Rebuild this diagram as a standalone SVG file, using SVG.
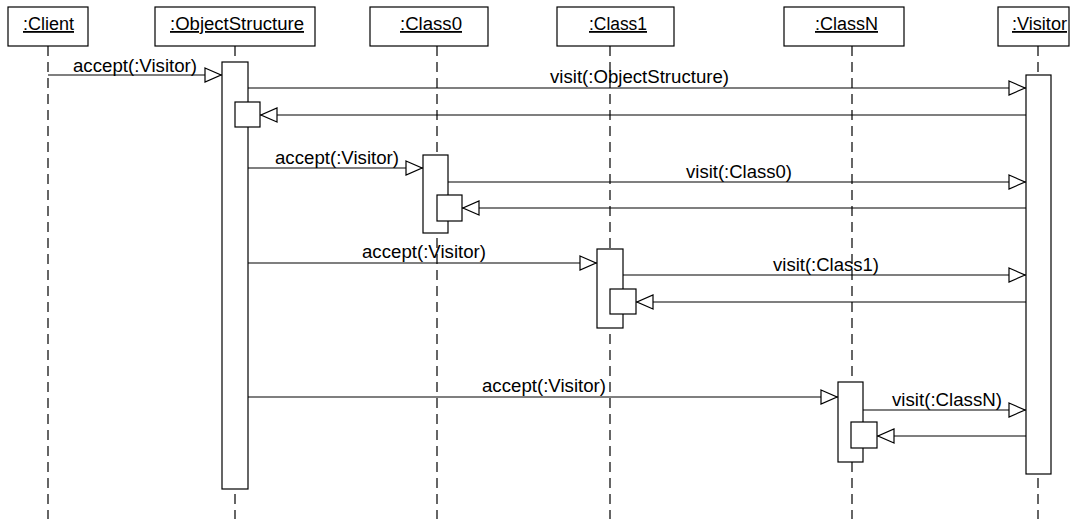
<svg xmlns="http://www.w3.org/2000/svg" width="1071" height="519" viewBox="0 0 1071 519">
<defs>
<style>
.box{fill:#fff;stroke:#000;stroke-width:1.2}
.life{stroke:#000;stroke-width:1.2;stroke-dasharray:10,6;fill:none}
.msg{stroke:#000;stroke-width:1.2;fill:none}
.lbl{font-family:"Liberation Sans",Arial,sans-serif;font-size:17.5px;fill:#000}
.name{font-family:"Liberation Sans",Arial,sans-serif;font-size:18px;fill:#000;text-decoration:underline}
</style>
<marker id="tri" viewBox="0 0 18 16" refX="18" refY="8" markerWidth="18" markerHeight="16" markerUnits="userSpaceOnUse" orient="auto">
<path d="M1,1 L17,8 L1,15 Z" fill="#fff" stroke="#000" stroke-width="1.2"/>
</marker>
</defs>
<rect width="1071" height="519" fill="#fff"/>
<g id="lifelines">
<line class="life" x1="48" y1="46" x2="48" y2="519"/>
<line class="life" x1="235" y1="46" x2="235" y2="519"/>
<line class="life" x1="437" y1="46" x2="437" y2="519"/>
<line class="life" x1="610" y1="46" x2="610" y2="519"/>
<line class="life" x1="852" y1="46" x2="852" y2="519"/>
<line class="life" x1="1038" y1="46" x2="1038" y2="519"/>
</g>
<g id="client"><rect class="box" x="8" y="7" width="80" height="39"/><text class="name" x="23" y="30" textLength="51" lengthAdjust="spacingAndGlyphs">:Client</text></g>
<g id="objectstructure"><rect class="box" x="155" y="7" width="160" height="39"/><text class="name" x="170" y="30" textLength="134" lengthAdjust="spacingAndGlyphs">:ObjectStructure</text>
<rect class="box" x="222" y="62" width="26" height="427"/><rect class="box" x="235" y="102" width="25" height="25"/></g>
<g id="class0"><rect class="box" x="370" y="7" width="118" height="39"/><text class="name" x="400" y="30" textLength="62" lengthAdjust="spacingAndGlyphs">:Class0</text>
<rect class="box" x="423" y="155" width="25" height="78"/><rect class="box" x="437" y="195" width="25" height="26"/></g>
<g id="class1"><rect class="box" x="557" y="7" width="117" height="39"/><text class="name" x="589" y="30" textLength="58" lengthAdjust="spacingAndGlyphs">:Class1</text>
<rect class="box" x="597" y="249" width="26" height="79"/><rect class="box" x="610" y="289" width="26" height="25"/></g>
<g id="classn"><rect class="box" x="784" y="7" width="120" height="39"/><text class="name" x="815" y="30" textLength="63" lengthAdjust="spacingAndGlyphs">:ClassN</text>
<rect class="box" x="838" y="382" width="25" height="80"/><rect class="box" x="851" y="422" width="26" height="26"/></g>
<g id="visitor"><rect class="box" x="998" y="7" width="71" height="39"/><text class="name" x="1012" y="30" textLength="55" lengthAdjust="spacingAndGlyphs">:Visitor</text>
<rect class="box" x="1026" y="75" width="25" height="399"/></g>
<g id="connectors">
<line class="msg" x1="48" y1="75" x2="222" y2="75" marker-end="url(#tri)"/>
<line class="msg" x1="248" y1="88" x2="1026" y2="88" marker-end="url(#tri)"/>
<line class="msg" x1="1026" y1="115" x2="260" y2="115" marker-end="url(#tri)"/>
<line class="msg" x1="248" y1="168" x2="423" y2="168" marker-end="url(#tri)"/>
<line class="msg" x1="448" y1="182" x2="1026" y2="182" marker-end="url(#tri)"/>
<line class="msg" x1="1026" y1="208" x2="462" y2="208" marker-end="url(#tri)"/>
<line class="msg" x1="248" y1="263" x2="597" y2="263" marker-end="url(#tri)"/>
<line class="msg" x1="623" y1="275" x2="1026" y2="275" marker-end="url(#tri)"/>
<line class="msg" x1="1026" y1="302" x2="636" y2="302" marker-end="url(#tri)"/>
<line class="msg" x1="248" y1="397" x2="838" y2="397" marker-end="url(#tri)"/>
<line class="msg" x1="863" y1="410" x2="1026" y2="410" marker-end="url(#tri)"/>
<line class="msg" x1="1026" y1="436" x2="877" y2="436" marker-end="url(#tri)"/>
<text class="lbl" x="73" y="72" textLength="124" lengthAdjust="spacingAndGlyphs">accept(:Visitor)</text>
<text class="lbl" x="550" y="83" textLength="179" lengthAdjust="spacingAndGlyphs">visit(:ObjectStructure)</text>
<text class="lbl" x="275" y="164" textLength="124" lengthAdjust="spacingAndGlyphs">accept(:Visitor)</text>
<text class="lbl" x="686" y="178" textLength="106" lengthAdjust="spacingAndGlyphs">visit(:Class0)</text>
<text class="lbl" x="362" y="258" textLength="124" lengthAdjust="spacingAndGlyphs">accept(:Visitor)</text>
<text class="lbl" x="773" y="271" textLength="106" lengthAdjust="spacingAndGlyphs">visit(:Class1)</text>
<text class="lbl" x="482" y="392" textLength="124" lengthAdjust="spacingAndGlyphs">accept(:Visitor)</text>
<text class="lbl" x="892" y="406" textLength="110" lengthAdjust="spacingAndGlyphs">visit(:ClassN)</text>
</g>
</svg>
